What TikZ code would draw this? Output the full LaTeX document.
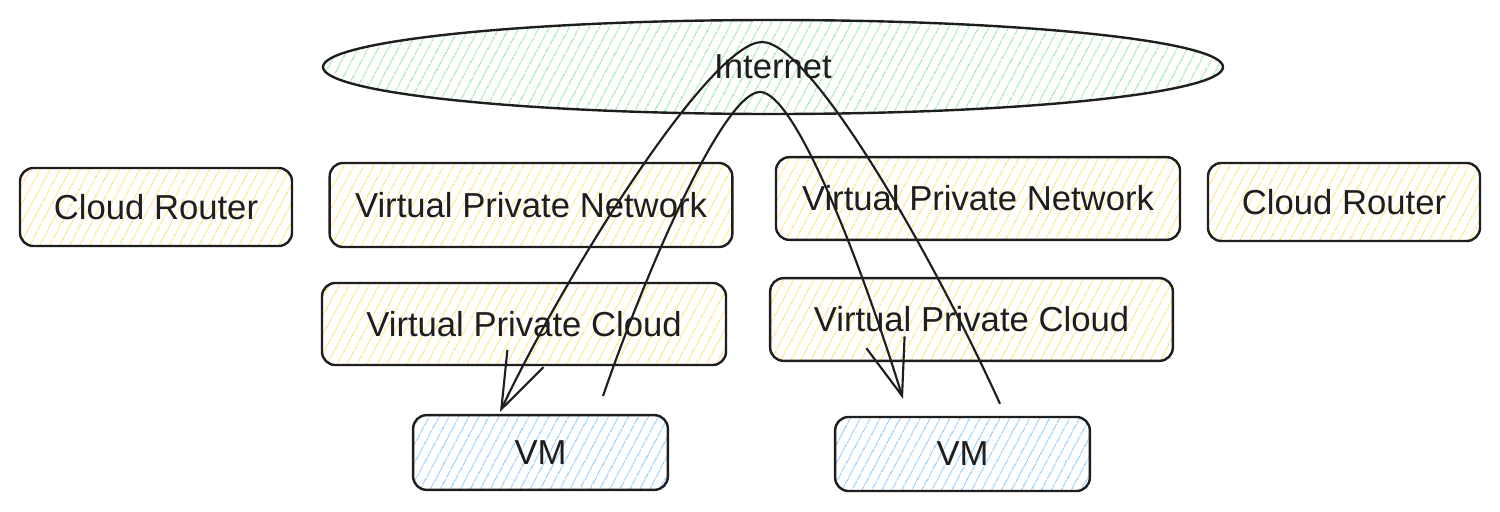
\documentclass[tikz,border=0pt]{standalone}
\usepackage{fontspec}
\setmainfont{Liberation Sans}
\usepackage{xcolor}
\usetikzlibrary{patterns.meta,arrows.meta,shapes.geometric}

\definecolor{inkline}{HTML}{1E1E1E}
\definecolor{hatchyellow}{HTML}{FFE27A}
\definecolor{hatchgreen}{HTML}{9BE8A8}
\definecolor{hatchblue}{HTML}{8FCBFF}

\tikzset{
  sketchbox/.style={draw=inkline, line width=1.8pt, rounded corners=10pt, text=inkline,
    font=\fontsize{26}{31}\selectfont, inner sep=0pt},
  ybox/.style={sketchbox, pattern={Lines[angle=62,distance=6.5pt,line width=0.9pt]}, pattern color=hatchyellow},
  bbox/.style={sketchbox, pattern={Lines[angle=62,distance=6.5pt,line width=0.9pt]}, pattern color=hatchblue},
  cloud/.style={ellipse, draw=inkline, line width=1.8pt, text=inkline, inner sep=0pt,
    font=\fontsize{26}{31}\selectfont,
    pattern={Lines[angle=62,distance=6.5pt,line width=0.9pt]}, pattern color=hatchgreen},
  link/.style={draw=inkline, line width=1.6pt, -{Straight Barb[length=42pt,width=30pt]}}
}

\begin{document}
\begin{tikzpicture}[x=0.75pt,y=0.75pt,yscale=-1,xscale=1]

\fill[white] (0,0) rectangle (1500,511);
\useasboundingbox (0,0) rectangle (1500,511);

\node[cloud, minimum width=675pt, minimum height=70.5pt] (inet) at (773,67) {Internet};

\node[ybox, minimum width=204pt, minimum height=58.5pt] (crL) at (156,207) {Cloud Router};
\node[ybox, minimum width=302pt, minimum height=63pt] (vpnL) at (531,205) {Virtual Private Network};
\node[ybox, minimum width=303pt, minimum height=62pt] (vpnR) at (978,198.5) {Virtual Private Network};
\node[ybox, minimum width=204pt, minimum height=58.5pt] (crR) at (1344,202) {Cloud Router};

\node[ybox, minimum width=303pt, minimum height=61.5pt] (vpcL) at (524,324) {Virtual Private Cloud};
\node[ybox, minimum width=302pt, minimum height=62pt] (vpcR) at (971.5,319.5) {Virtual Private Cloud};

\node[bbox, minimum width=191pt, minimum height=56pt] (vmL) at (540.5,452.5) {VM};
\node[bbox, minimum width=191pt, minimum height=55.5pt] (vmR) at (962.5,454) {VM};

\draw[link] ([shift={(37.5,-12)}]vmR.north) .. controls (930,250) and (810,42) .. (762,42)
  .. controls (712,42) and (570,265) .. ([shift={(-40.5,-2)}]vmL.north);
\draw[link] ([shift={(62.5,-18)}]vmL.north) .. controls (650,260) and (725,92) .. (760,92)
  .. controls (795,92) and (860,260) .. ([shift={(-59.5,-17)}]vmR.north);

\end{tikzpicture}
\end{document}
